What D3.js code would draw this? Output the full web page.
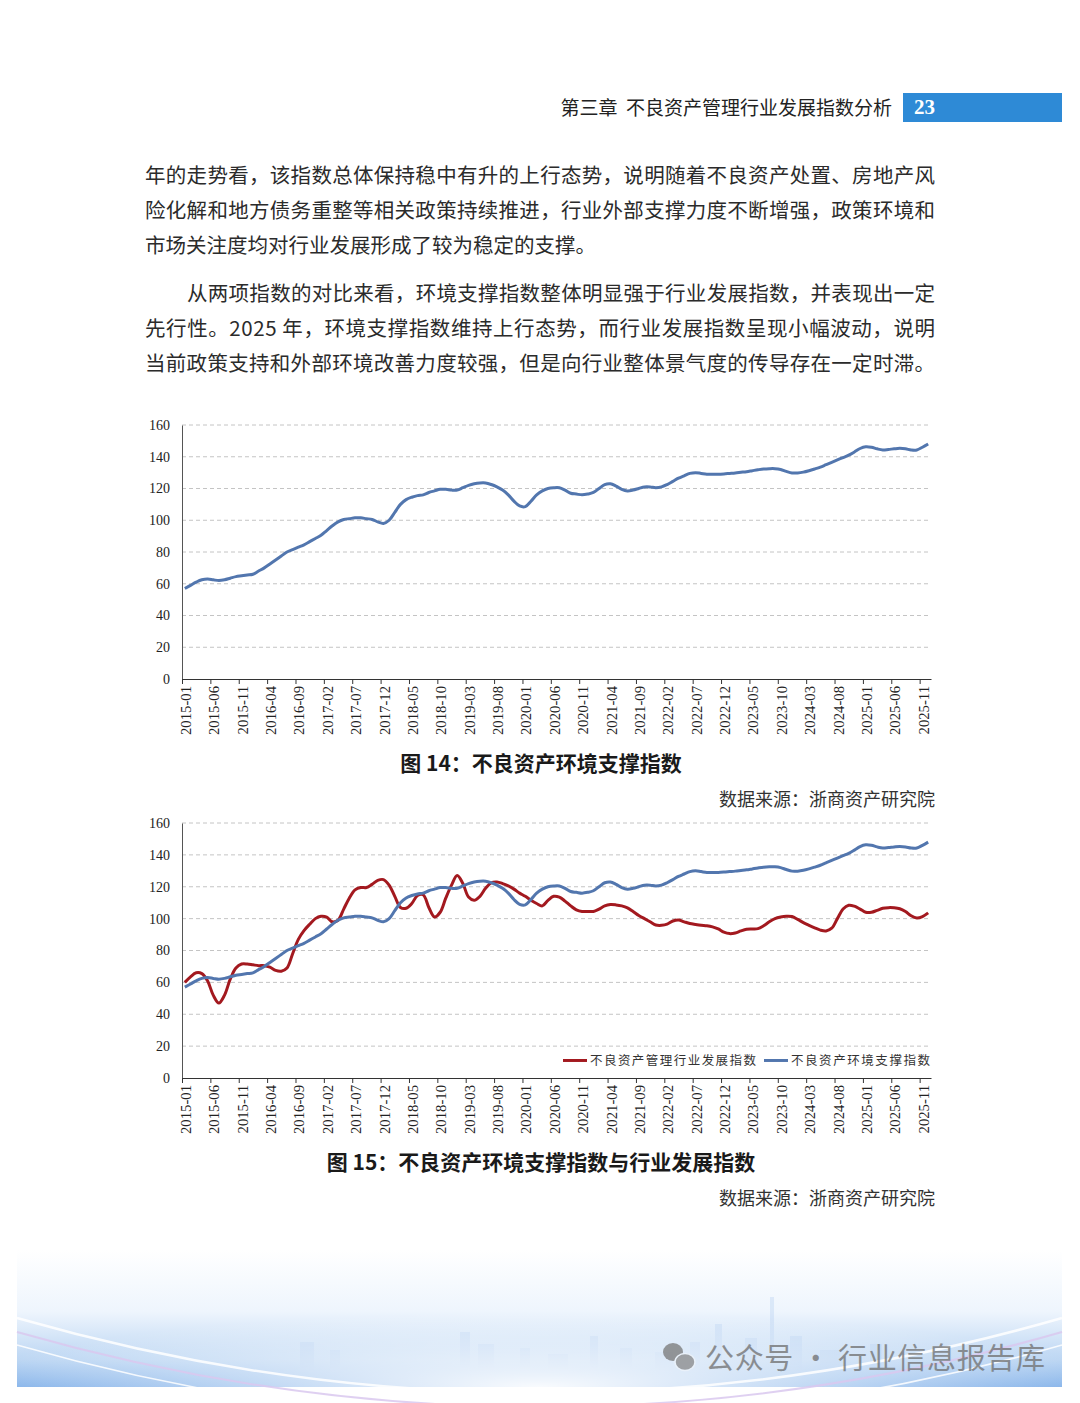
<!DOCTYPE html>
<html>
<head>
<meta charset="utf-8">
<script src="https://cdn.jsdelivr.net/npm/d3@7/dist/d3.min.js"></script>
<style>
    html, body { margin: 0; padding: 0; background: #fff; }
    svg { display: block; }
</style>
</head>
<body>
<svg id="page" width="1080" height="1403"></svg>
<script>

/*=============== DATA ============*/

// monthly, 2015-01 .. 2025-12
var startYear = 2015;
var monthCount = 132;

// 不良资产环境支撑指数
var envIndex = [
    57, 59, 61, 62.5, 63, 62.5, 62, 62.5, 63.5, 64.5, 65, 65.5,
    66, 68, 70, 72.5, 75, 77.5, 80, 81.5, 83, 84.5, 86.5, 88.5,
    90.5, 93.5, 96.5, 99, 100.5, 101, 101.5, 101.5, 101, 100.5, 99, 98,
    100, 105, 110, 113, 114.5, 115.5, 116, 117.5, 118.5, 119.5, 119.5, 119,
    119, 120.5, 122, 123, 123.5, 123.5, 122.5, 121, 119, 116, 112, 109,
    108.6, 112, 116, 118.5, 120, 120.5, 120.5, 119, 117, 116.5, 116, 116.5,
    117.5, 120, 122.5, 123, 121.5, 119.5, 118.5, 119, 120, 121, 121, 120.5,
    121, 122.5, 124.5, 126.5, 128, 129.5, 130, 129.5, 129, 129, 129, 129.2,
    129.5, 129.8, 130.2, 130.6, 131.2, 131.8, 132.3, 132.5, 132.5, 132, 130.8, 129.8,
    129.8, 130.3, 131.2, 132.3, 133.5, 135, 136.5, 138, 139.5, 141, 143, 145.2,
    146.3, 146, 145, 144.3, 144.6, 145, 145.3, 145, 144.3, 144.3, 146, 148
];

// 不良资产管理行业发展指数
var industryIndex = [
    60, 63.5, 66, 65.5, 61, 52, 47, 52, 62, 69, 71.5, 71.5,
    71, 70.5, 70.5, 69.5, 67.5, 67, 69, 78, 87, 92.5, 96.5, 100,
    101.5, 101, 98, 99, 106, 113, 118, 119.5, 119.5, 121.5, 124, 124.5,
    121, 114, 107, 106.5, 109.5, 114.5, 115, 107, 101, 104, 113, 121,
    127, 122, 113.5, 111.5, 114, 119, 122.5, 123, 122, 120.5, 118.5, 116,
    114, 111.5, 109.5, 108, 111.5, 114, 113.5, 111, 108, 105.5, 104.5, 104.5,
    104.5, 106, 108, 108.8, 108.6, 108, 106.8, 104.5, 102, 100, 98, 96,
    95.8, 96.5, 98.5, 99.2, 98, 96.9, 96.3, 95.8, 95.5, 94.8, 93.5, 91.5,
    90.6, 91, 92.3, 93.3, 93.5, 93.7, 95.5, 98, 100, 101, 101.5, 101.3,
    99.5, 97.5, 95.8, 94.2, 92.8, 92.3, 94, 100, 106, 108.4, 107.8, 106,
    104, 104, 105.2, 106.5, 106.9, 106.8, 106.2, 104.5, 101.8, 100.4, 101.3, 103.6
];

var yTicks = [0, 20, 40, 60, 80, 100, 120, 140, 160];
var labelStep = 5;

var seriesNames = ['不良资产管理行业发展指数', '不良资产环境支撑指数'];
var seriesColors = ['#a3191f', '#5276ae'];

var headerTitle = '第三章  不良资产管理行业发展指数分析';
var pageNumber = '23';

var paragraphLines = [
    { text: '年的走势看，该指数总体保持稳中有升的上行态势，说明随着不良资产处置、房地产风', full: true, indent: 0 },
    { text: '险化解和地方债务重整等相关政策持续推进，行业外部支撑力度不断增强，政策环境和', full: true, indent: 0 },
    { text: '市场关注度均对行业发展形成了较为稳定的支撑。', full: false, indent: 0 },
    { text: '从两项指数的对比来看，环境支撑指数整体明显强于行业发展指数，并表现出一定', full: true, indent: 42 },
    { text: '先行性。2025 年，环境支撑指数维持上行态势，而行业发展指数呈现小幅波动，说明', full: true, indent: 0 },
    { text: '当前政策支持和外部环境改善力度较强，但是向行业整体景气度的传导存在一定时滞。', full: true, indent: 0 }
];

var captions = ['图 14：不良资产环境支撑指数', '图 15：不良资产环境支撑指数与行业发展指数'];
var sourceText = '数据来源：浙商资产研究院';


/*=============== HELPERS ============*/

var cjk = '"Noto Sans CJK SC", "Noto Sans", sans-serif';
var serif = '"Liberation Serif", "DejaVu Serif", serif';

var monthLabel = function (i) {
    var y = startYear + Math.floor(i / 12);
    var m = (i % 12) + 1;
    return y + '-' + (m < 10 ? '0' + m : m);
};

var svg = d3.select('#page');


/*=============== HEADER + BODY TEXT ============*/

svg.append('text')
    .attr('x', 892)
    .attr('y', 115)
    .attr('text-anchor', 'end')
    .attr('font-family', cjk)
    .attr('font-size', 19)
    .attr('fill', '#222')
    .attr('xml:space', 'preserve')
    .text(headerTitle);

svg.append('rect')
    .attr('x', 903).attr('y', 93)
    .attr('width', 159).attr('height', 29)
    .attr('fill', '#2e8ad6');

svg.append('text')
    .attr('x', 914)
    .attr('y', 114)
    .attr('font-family', serif)
    .attr('font-weight', 'bold')
    .attr('font-size', 21)
    .attr('fill', '#fff')
    .text(pageNumber);

var lineYs = [183, 218, 253, 301, 336, 371];

svg.append('g').selectAll('text')
    .data(paragraphLines)
    .enter().append('text')
        .attr('x', function (d) { return 145 + d.indent; })
        .attr('y', function (d, i) { return lineYs[i]; })
        .attr('font-family', cjk)
        .attr('font-size', 20.5)
        .attr('fill', '#2b2b2b')
        .each(function (d) {
            if (d.full) {
                d3.select(this)
                    .attr('textLength', 790 - d.indent)
                    .attr('lengthAdjust', 'spacing');
            }
        })
        .text(function (d) { return d.text; });


/*=============== CHARTS ============*/

var drawChart = function (top, bottom, series, withLegend) {

    var x = d3.scaleLinear().domain([0, monthCount]).range([182, 931]);
    var y = d3.scaleLinear().domain([0, 160]).range([bottom, top]);

    var g = svg.append('g');

    // dashed grid
    g.append('g').selectAll('line')
        .data(yTicks.filter(function (t) { return t > 0; }))
        .enter().append('line')
            .attr('x1', x(0)).attr('x2', x(monthCount))
            .attr('y1', function (d) { return y(d); })
            .attr('y2', function (d) { return y(d); })
            .attr('stroke', '#c4c4c4')
            .attr('stroke-width', 1)
            .attr('stroke-dasharray', '4,3');

    // y axis
    var yAxis = d3.axisLeft(y).tickValues(yTicks).tickSize(0).tickPadding(12);
    var yG = g.append('g')
        .attr('transform', 'translate(' + x(0) + ',0)')
        .call(yAxis);
    yG.select('.domain').attr('stroke', '#555');
    yG.selectAll('text')
        .attr('font-family', serif)
        .attr('font-size', 14)
        .attr('fill', '#222');

    // x axis, ticks at category boundaries
    var tickIdx = d3.range(0, monthCount, labelStep);
    var xAxis = d3.axisBottom(x).tickValues(tickIdx).tickSize(5).tickSizeOuter(0).tickFormat('');
    var xG = g.append('g')
        .attr('transform', 'translate(0,' + bottom + ')')
        .call(xAxis);
    xG.select('.domain').attr('stroke', '#333');
    xG.selectAll('.tick line').attr('stroke', '#333');

    g.append('g').selectAll('text')
        .data(tickIdx)
        .enter().append('text')
            .attr('transform', function (d) {
                return 'translate(' + (x(d + 0.5) + 1) + ',' + (bottom + 7) + ') rotate(-90)';
            })
            .attr('text-anchor', 'end')
            .attr('dy', '0.35em')
            .attr('font-family', serif)
            .attr('font-size', 14.7)
            .attr('fill', '#222')
            .text(monthLabel);

    // lines
    var line = d3.line()
        .x(function (d, i) { return x(i + 0.5); })
        .y(function (d) { return y(d); })
        .curve(d3.curveCatmullRom.alpha(0.5));

    series.forEach(function (s) {
        g.append('path')
            .datum(s.values)
            .attr('fill', 'none')
            .attr('stroke', s.color)
            .attr('stroke-width', 3)
            .attr('stroke-linejoin', 'round')
            .attr('d', line);
    });

    if (withLegend) {
        var legendY = y(11);
        var items = [
            { name: seriesNames[0], color: seriesColors[0], x: 563, w: 166 },
            { name: seriesNames[1], color: seriesColors[1], x: 764, w: 139 }
        ];
        var lg = g.append('g').selectAll('g')
            .data(items)
            .enter().append('g');
        lg.append('line')
            .attr('x1', function (d) { return d.x; })
            .attr('x2', function (d) { return d.x + 24; })
            .attr('y1', legendY).attr('y2', legendY)
            .attr('stroke', function (d) { return d.color; })
            .attr('stroke-width', 3);
        lg.append('text')
            .attr('x', function (d) { return d.x + 27; })
            .attr('y', legendY)
            .attr('dy', '0.35em')
            .attr('font-family', cjk)
            .attr('font-size', 12.5)
            .attr('fill', '#333')
            .attr('textLength', function (d) { return d.w; })
            .attr('lengthAdjust', 'spacing')
            .text(function (d) { return d.name; });
    }
};

drawChart(425, 679, [
    { values: envIndex, color: seriesColors[1] }
], false);

drawChart(823, 1078, [
    { values: industryIndex, color: seriesColors[0] },
    { values: envIndex, color: seriesColors[1] }
], true);


/*=============== CAPTIONS ============*/

[[771, captions[0]], [1170, captions[1]]].forEach(function (c) {
    svg.append('text')
        .attr('x', 541)
        .attr('y', c[0])
        .attr('text-anchor', 'middle')
        .attr('font-family', cjk)
        .attr('font-weight', 'bold')
        .attr('font-size', 21)
        .attr('fill', '#1a1a1a')
        .text(c[1]);
});

[806, 1205].forEach(function (yy) {
    svg.append('text')
        .attr('x', 935)
        .attr('y', yy)
        .attr('text-anchor', 'end')
        .attr('font-family', cjk)
        .attr('font-size', 18)
        .attr('fill', '#333')
        .text(sourceText);
});


/*=============== FOOTER DECORATION ============*/

var defs = svg.append('defs');
var fg = defs.append('linearGradient').attr('id', 'footFade')
    .attr('x1', 0).attr('y1', 0).attr('x2', 0).attr('y2', 1);
fg.append('stop').attr('offset', '0%').attr('stop-color', '#ffffff');
fg.append('stop').attr('offset', '45%').attr('stop-color', '#eef5fd');
fg.append('stop').attr('offset', '80%').attr('stop-color', '#bcd6f3');
fg.append('stop').attr('offset', '100%').attr('stop-color', '#82b1e9');

var glow = defs.append('radialGradient').attr('id', 'footGlow')
    .attr('cx', '50%').attr('cy', '100%').attr('r', '55%');
glow.append('stop').attr('offset', '0%').attr('stop-color', '#ffffff').attr('stop-opacity', 0.95);
glow.append('stop').attr('offset', '100%').attr('stop-color', '#ffffff').attr('stop-opacity', 0);

var foot = svg.append('g');
foot.append('rect')
    .attr('x', 17).attr('y', 1250)
    .attr('width', 1045).attr('height', 137)
    .attr('fill', 'url(#footFade)');

// faint skyline
var towers = [
    [300, 30, 14], [330, 22, 10], [460, 40, 10], [478, 28, 16], [520, 24, 10], [548, 18, 20],
    [590, 36, 8], [620, 24, 12], [655, 20, 18], [690, 30, 10], [715, 48, 7], [745, 34, 12],
    [770, 75, 4], [790, 36, 12], [820, 22, 20], [870, 28, 12]
];
foot.append('g').selectAll('rect')
    .data(towers)
    .enter().append('rect')
        .attr('x', function (d) { return d[0]; })
        .attr('y', function (d) { return 1372 - d[1]; })
        .attr('width', function (d) { return d[2]; })
        .attr('height', function (d) { return d[1]; })
        .attr('fill', '#a9c8ee')
        .attr('opacity', 0.3);

foot.append('rect')
    .attr('x', 17).attr('y', 1250)
    .attr('width', 1045).attr('height', 137)
    .attr('fill', 'url(#footGlow)');

// light arcs
[[1318, '#ffffff', 2.5], [1332, '#d9c8ee', 2], [1345, '#ffffff', 1.5]].forEach(function (a) {
    foot.append('path')
        .attr('d', 'M17,' + a[0] + ' Q540,' + (a[0] + 150) + ' 1062,' + a[0])
        .attr('fill', 'none')
        .attr('stroke', a[1])
        .attr('stroke-width', a[2])
        .attr('opacity', 0.85);
});

// watermark
var wm = foot.append('g').attr('opacity', 0.75);
wm.append('ellipse').attr('cx', 673).attr('cy', 1352).attr('rx', 10).attr('ry', 9).attr('fill', '#777');
wm.append('ellipse').attr('cx', 685).attr('cy', 1362).attr('rx', 10).attr('ry', 8.5).attr('fill', '#888')
    .attr('stroke', '#eef4fb').attr('stroke-width', 1.5);
wm.append('text')
    .attr('x', 705)
    .attr('y', 1369)
    .attr('font-family', cjk)
    .attr('font-size', 29)
    .attr('fill', '#6f6f6f')
    .attr('textLength', 340)
    .attr('lengthAdjust', 'spacing')
    .text('公众号 · 行业信息报告库');

</script>
</body>
</html>
